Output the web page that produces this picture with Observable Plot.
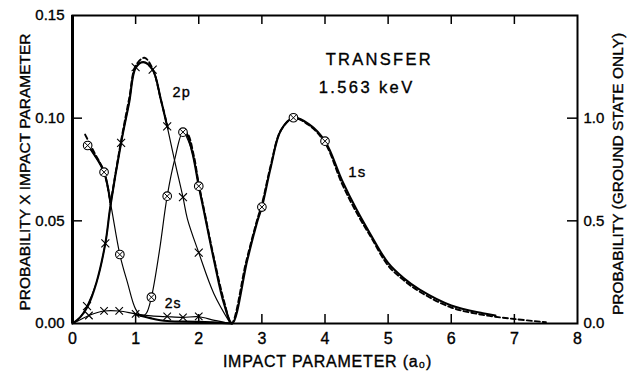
<!DOCTYPE html>
<html><head><meta charset="utf-8">
<script src="https://cdn.jsdelivr.net/npm/d3@7"></script>
<script src="https://cdn.jsdelivr.net/npm/@observablehq/plot@0.6"></script>
<style>
html,body{margin:0;padding:0;background:#fff;}
</style>
</head><body><div id="chart"></div>
<script>
// ---- axes ----
const xTicks = [0,1,2,3,4,5,6,7,8];
const xTickLabels = ["0","1","2","3","4","5","6","7","8"];
const xInnerTicks = [1,2,3,4,5,6,7];
const yTicks = [0,0.05,0.10,0.15];
const yTickLabels = ["0.00","0.05","0.10","0.15"];
const yInnerTicks = [0.05,0.10];
const rightTicks = [0,0.05,0.10];
const rightTickLabels = ["0.0","0.5","1.0"];
const xLabel = "IMPACT PARAMETER (a₀)";
const yLabel = "PROBABILITY X IMPACT PARAMETER";
const rightLabel = "PROBABILITY (GROUND STATE ONLY)";

// ---- thin 1s curve (circled-x points) ----
const s1X = [0.24,0.35,0.5,0.6,0.75,0.87,1.0,1.1,1.17,1.25,1.375,1.5,1.62,1.75,1.87,2.0];
const s1Y = [0.0867,0.082,0.0737,0.059,0.0336,0.02,0.007,0.0035,0.005,0.0128,0.035,0.062,0.08,0.0932,0.086,0.0669];
const s1MarkX = [0.24,0.5,0.75,1.25,1.5,1.75,2.0,3.0,3.5,4.0];
const s1MarkY = [0.0867,0.0737,0.0336,0.0128,0.062,0.0932,0.0669,0.0567,0.1002,0.0888];

// ---- thin 2p curve (x points) ----
const p2X = [0,0.12,0.23,0.38,0.52,0.6,0.77,0.9,1.0,1.12,1.27,1.4,1.5,1.62,1.75,1.82,2.0,2.24,2.5];
const p2Y = [0,0.003,0.0085,0.02,0.039,0.057,0.088,0.108,0.1248,0.1273,0.1236,0.109,0.096,0.079,0.0615,0.051,0.0345,0.0145,0];
const p2MarkX = [0.23,0.52,0.77,1.0,1.27,1.5,1.75,2.0];
const p2MarkY = [0.0085,0.039,0.088,0.1248,0.1236,0.096,0.0615,0.0345];

// ---- thin 2s curve (x points) ----
const s2X = [0,0.13,0.26,0.5,0.74,1.0,1.25,1.5,1.75,2.0,2.25,2.5];
const s2Y = [0,0.002,0.0039,0.0061,0.0061,0.0047,0.0037,0.0033,0.003,0.0033,0.0015,0];
const s2MarkX = [0.26,0.5,0.74,1.0,1.5,1.75,2.0];
const s2MarkY = [0.0039,0.0061,0.0061,0.0047,0.0035,0.003,0.0035];

// ---- thick solid curve (segments) ----
const solidX = [0.24,0.35,0.5,0.6,
  0,0.12,0.24,0.38,0.52,0.6,0.77,0.9,1.0,1.12,1.27,1.4,1.5,
  1.72,1.8,1.9,2.0,2.08,2.24,2.4,2.53,2.77,2.93,3.0,3.14,3.3,3.5,3.75,4.0,4.27,4.5,4.72,5.0,5.25,5.5,6.0,6.5,6.7,
  1.0,1.25,1.5,2.0,2.53];
const solidY = [0.0867,0.082,0.0737,0.059,
  0,0.003,0.0083,0.02,0.039,0.057,0.088,0.108,0.1245,0.1273,0.1236,0.109,0.096,
  0.0925,0.0925,0.083,0.0669,0.055,0.031,0.0096,0,0.031,0.05,0.0567,0.076,0.094,0.1002,0.097,0.0888,0.0697,0.0555,0.0435,0.0295,0.022,0.0165,0.0088,0.005,0.0039,
  0.0045,0.0025,0.0012,0.0008,0];
const solidSeg = [1,1,1,1,
  2,2,2,2,2,2,2,2,2,2,2,2,2,
  3,3,3,3,3,3,3,3,3,3,3,3,3,3,3,3,3,3,3,3,3,3,3,3,3,
  4,4,4,4,4];

// ---- dashed curve (segments) ----
const dashX = [0.2,0.35,0.5,0.6,
  0.6,0.77,0.9,1.0,1.14,1.27,1.4,1.52,
  1.74,1.82,1.92,2.0,2.08,2.24,2.4,2.52,2.75,2.93,3.0,3.14,3.3,3.5,3.75,4.0,4.27,4.5,4.72,5.0,5.25,5.5,6.0,6.5,7.0,7.5];
const dashY = [0.092,0.083,0.074,0.059,
  0.058,0.089,0.11,0.1255,0.1294,0.124,0.109,0.094,
  0.0935,0.0925,0.082,0.068,0.056,0.032,0.011,0,0.03,0.051,0.058,0.077,0.094,0.1,0.0965,0.088,0.068,0.054,0.0425,0.0282,0.021,0.0155,0.0078,0.0042,0.0022,0.0006];
const dashSeg = [1,1,1,1,
  2,2,2,2,2,2,2,2,
  3,3,3,3,3,3,3,3,3,3,3,3,3,3,3,3,3,3,3,3,3,3,3,3,3,3];

// ---- annotations ----
const annText = ["TRANSFER","1.563 keV","2p","1s","2s"];
const annX = [4.01,3.9,1.585,4.37,1.46];
const annY = [0.1286,0.1147,0.1125,0.0738,0.0097];
const annSize = [16.5,16.5,14.5,15,14];

const zip = (xs, ys, extra) => xs.map((x, i) => ({x, y: ys[i], s: extra ? extra[i] : 0}));
const s1 = zip(s1X, s1Y), p2 = zip(p2X, p2Y), s2 = zip(s2X, s2Y);
const s1M = zip(s1MarkX, s1MarkY), p2M = zip(p2MarkX, p2MarkY), s2M = zip(s2MarkX, s2MarkY);
const solid = zip(solidX, solidY, solidSeg), dashed = zip(dashX, dashY, dashSeg);
const ann = annText.map((t, i) => ({t, x: annX[i], y: annY[i], size: annSize[i]}));

const W = 634, H = 375, mL = 72, mR = 57, mT = 15, mB = 52;
const innerW = W - mL - mR, innerH = H - mT - mB;
const tickLenX = 9, tickLenY = 10;
const font = "Liberation Sans, Arial, Helvetica, sans-serif";
const chart = Plot.plot({
  width: W, height: H,
  marginLeft: mL, marginRight: mR, marginTop: mT, marginBottom: mB,
  x: {domain: [0, 8]},
  y: {domain: [0, 0.15]},
  style: {fontFamily: font, background: "white", color: "black", overflow: "visible"},
  marks: [
    // tick labels
    Plot.axisX(xTicks, {anchor: "bottom", tickSize: 0, tickPadding: 9, fontSize: 16, label: null,
      tickFormat: d => xTickLabels[xTicks.indexOf(d)]}),
    Plot.axisY(yTicks, {anchor: "left", tickSize: 0, tickPadding: 8, fontSize: 15, label: null,
      tickFormat: d => yTickLabels[yTicks.indexOf(d)]}),
    Plot.axisY(rightTicks, {anchor: "right", tickSize: 0, tickPadding: 6, fontSize: 15, label: null,
      tickFormat: d => rightTickLabels[rightTicks.indexOf(d)]}),
    // inward tick marks as short rules inset from the frame
    Plot.ruleX(xInnerTicks, {insetTop: innerH - tickLenX, stroke: "black", strokeWidth: 1.5}),
    Plot.ruleX(xInnerTicks, {insetBottom: innerH - tickLenX, stroke: "black", strokeWidth: 1.5}),
    Plot.ruleY(yInnerTicks, {insetRight: innerW - tickLenY, stroke: "black", strokeWidth: 1.5}),
    Plot.ruleY(yInnerTicks, {insetLeft: innerW - tickLenY, stroke: "black", strokeWidth: 1.5}),
    // axis titles
    Plot.text([yLabel], {text: d => d, frameAnchor: "left", textAnchor: "middle", lineAnchor: "middle",
      dx: -47, dy: 2.5, rotate: -90, fontSize: 15.5}),
    Plot.text([rightLabel], {text: d => d, frameAnchor: "right", textAnchor: "middle", lineAnchor: "middle",
      dx: 41, dy: 4.5, rotate: -90, fontSize: 15.5}),
    Plot.text([xLabel], {text: d => d, frameAnchor: "bottom", textAnchor: "middle", lineAnchor: "middle",
      dx: 2.5, dy: 38, fontSize: 16}),
    // thin curves
    Plot.line(s1, {x: "x", y: "y", curve: "catmull-rom", stroke: "black", strokeWidth: 1.15}),
    Plot.line(p2, {x: "x", y: "y", curve: "catmull-rom", stroke: "black", strokeWidth: 1.15}),
    Plot.line(s2, {x: "x", y: "y", curve: "catmull-rom", stroke: "black", strokeWidth: 1.15}),
    // thick solid and dashed
    Plot.line(solid, {x: "x", y: "y", z: "s", curve: "catmull-rom", stroke: "black", strokeWidth: 2.1}),
    Plot.line(dashed, {x: "x", y: "y", z: "s", curve: "catmull-rom", stroke: "black", strokeWidth: 1.9, strokeDasharray: "5,3"}),
    // markers
    Plot.dot(s1M, {x: "x", y: "y", r: 4.3, fill: "white", stroke: "black", strokeWidth: 1.1}),
    Plot.dot(s1M, {x: "x", y: "y", r: 2.8, symbol: "times", stroke: "black", strokeWidth: 1}),
    Plot.dot(p2M, {x: "x", y: "y", r: 3.7, symbol: "times", stroke: "black", strokeWidth: 1.1}),
    Plot.dot(s2M, {x: "x", y: "y", r: 3.5, symbol: "times", stroke: "black", strokeWidth: 1.1}),
    // annotations
    Plot.text(ann, {x: "x", y: "y", text: "t", fontSize: d => d.size, textAnchor: "start", fill: "black"}),
    // frame
    Plot.frame({stroke: "black", strokeWidth: 2}),
    Plot.ruleX([xTicks[0]], {stroke: "black", strokeWidth: 3})
  ]
});
document.getElementById("chart").appendChild(chart);

// letter spacing and a slight stroke to imitate the wide, heavy hand lettering
const spacing = {"TRANSFER": 2.3, "1.563 keV": 2.4, "2p": 1.2, "1s": 1, "2s": 1, [xLabel]: 0.8};
d3.select(chart).selectAll("text").each(function() {
  const s = spacing[this.textContent];
  if (s !== undefined) this.setAttribute("letter-spacing", s);
  this.setAttribute("stroke", "black");
  this.setAttribute("stroke-width", "0.35");
});
</script>
</body></html>
